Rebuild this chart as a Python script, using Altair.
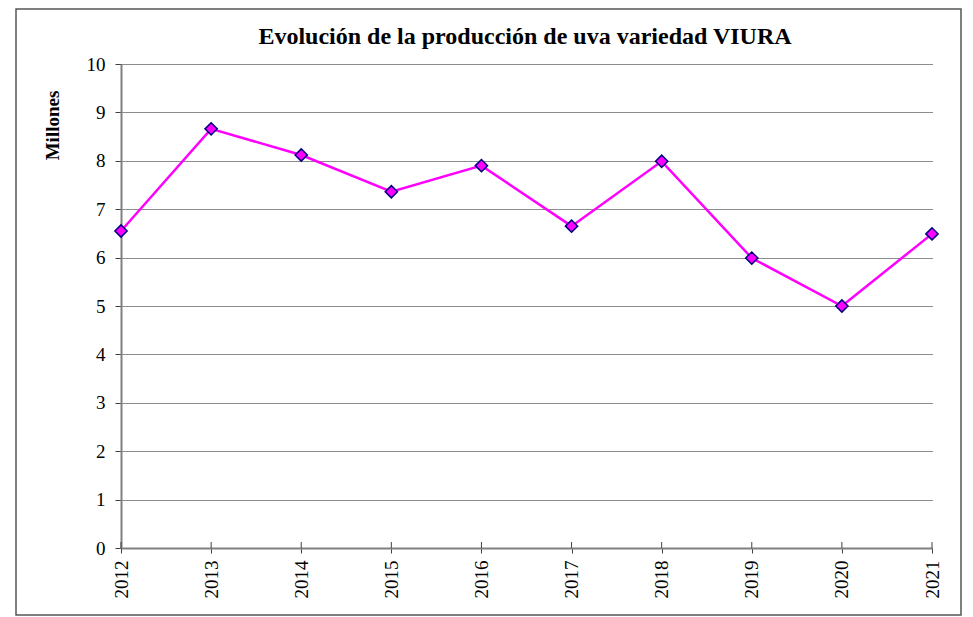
import altair as alt
import pandas as pd

years = ["2012", "2013", "2014", "2015", "2016", "2017", "2018", "2019", "2020", "2021"]
values = [6.55, 8.66, 8.12, 7.36, 7.90, 6.65, 7.99, 5.99, 5.0, 6.49]
title_text = "Evolución de la producción de uva variedad VIURA"

df = pd.DataFrame({"Año": years, "Millones": values})

FONT = "Liberation Serif"

x_enc = alt.X(
    "Año:O",
    scale=alt.Scale(type="point", padding=0),
    axis=alt.Axis(
        title=None,
        labelAngle=270,
        labelFont=FONT,
        labelFontSize=19,
        labelColor="black",
        labelPadding=7,
        tickSize=5,
        tickColor="#404040",
        domainColor="#808080",
        domainWidth=2,
        grid=False,
    ),
)
y_enc = alt.Y(
    "Millones:Q",
    scale=alt.Scale(domain=[0, 10], nice=False),
    axis=alt.Axis(
        title="Millones",
        titleFont=FONT,
        titleFontSize=19,
        titleFontWeight="bold",
        titleColor="black",
        titleX=-63,
        titleY=61,
        titleAlign="center",
        titleBaseline="alphabetic",
        titleAngle=270,
        values=list(range(0, 11)),
        labelFont=FONT,
        labelFontSize=19,
        labelColor="black",
        labelPadding=10,
        tickSize=6,
        tickColor="#404040",
        domainColor="#808080",
        domainWidth=2,
        grid=True,
        gridColor="#000000",
        gridDash=[1, 1],
        gridWidth=1,
        gridOpacity=0.9,
    ),
)

base = alt.Chart(df)
inner_ticks = base.mark_rule(color="#404040", strokeWidth=1).encode(
    x=alt.X("Año:O", scale=alt.Scale(type="point", padding=0)),
    y=alt.value(478), y2=alt.value(484),
)
line = base.mark_line(color="#FF00FF", strokeWidth=2.5).encode(x=x_enc, y=y_enc)
points = base.mark_point(
    shape="diamond", size=150, filled=True, fill="#FF00FF", stroke="#000080",
    strokeWidth=1.5, opacity=1
).encode(x=x_enc, y=y_enc)

deco = alt.Chart(pd.DataFrame({"t": [title_text]}))
border = deco.mark_rect(
    fill=None, stroke="#555555", strokeWidth=1.5, clip=False
).encode(
    x=alt.value(-105), x2=alt.value(840), y=alt.value(-55), y2=alt.value(551)
)
title = deco.mark_text(
    font=FONT, fontSize=24, fontWeight="bold", color="black",
    align="center", baseline="alphabetic", clip=False
).encode(text="t:N", x=alt.value(404), y=alt.value(-20))

chart = alt.layer(border, inner_ticks, line, points, title).properties(
    width=811,
    height=484,
    padding={"left": 113, "top": 56, "right": 30, "bottom": 68},
    autosize=alt.AutoSizeParams(type="none"),
).configure_view(stroke=None)

chart.save("out.html", embed_options={"renderer": "svg", "actions": False})
